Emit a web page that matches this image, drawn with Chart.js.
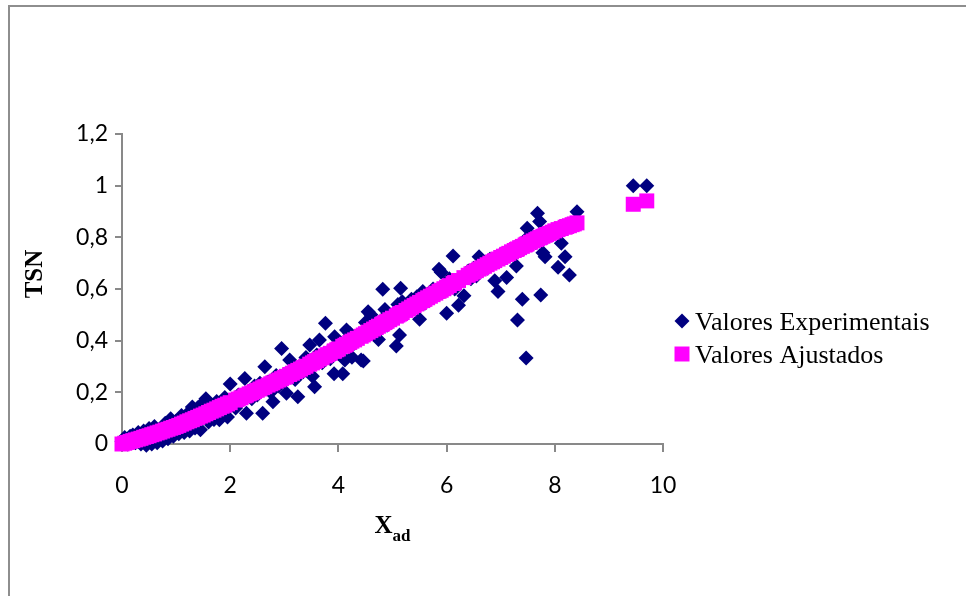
<!DOCTYPE html>
<html>
<head>
<meta charset="utf-8">
<title>TSN x Xad</title>
<script src="https://cdn.jsdelivr.net/npm/chart.js@4.4.0/dist/chart.umd.min.js"></script>
<style>
  html, body { margin: 0; padding: 0; background: #ffffff; }
  #frame {
    position: absolute; left: 8px; top: 5px; width: 1000px; height: 1000px;
    border-left: 2px solid #8e8e8e; border-top: 2px solid #8e8e8e; box-sizing: border-box;
  }
  #c { position: absolute; left: 0; top: 0; }
</style>
</head>
<body>
<div id="frame"></div>
<canvas id="c" width="966" height="596"></canvas>
<script>
// Adimensional position X_ad shared by both series
const xAd = [
  0.00, 0.05, 0.10, 0.15, 0.20, 0.25, 0.30, 0.35, 0.40, 0.45,
  0.50, 0.55, 0.60, 0.65, 0.70, 0.75, 0.80, 0.85, 0.90, 0.95,
  1.00, 1.05, 1.10, 1.15, 1.20, 1.25, 1.30, 1.35, 1.40, 1.45,
  1.50, 1.55, 1.60, 1.65, 1.70, 1.75, 1.80, 1.85, 1.90, 1.95,
  2.00, 2.10, 2.15, 2.20, 2.27, 2.30, 2.35, 2.40, 2.45, 2.50,
  2.55, 2.60, 2.64, 2.70, 2.75, 2.79, 2.85, 2.90, 2.95, 3.00,
  3.04, 3.10, 3.15, 3.20, 3.25, 3.30, 3.35, 3.40, 3.47, 3.52,
  3.56, 3.60, 3.65, 3.70, 3.76, 3.80, 3.85, 3.92, 3.93, 3.97,
  4.00, 4.08, 4.12, 4.15, 4.21, 4.25, 4.30, 4.35, 4.42, 4.46,
  4.50, 4.55, 4.60, 4.65, 4.70, 4.74, 4.80, 4.82, 4.86, 4.90,
  4.95, 5.00, 5.07, 5.10, 5.13, 5.15, 5.18, 5.25, 5.30, 5.35,
  5.40, 5.45, 5.50, 5.56, 5.60, 5.65, 5.70, 5.75, 5.80, 5.86,
  5.90, 5.95, 6.00, 6.05, 6.12, 6.15, 6.22, 6.32, 6.40, 6.45,
  6.50, 6.55, 6.60, 6.65, 6.70, 6.75, 6.80, 6.85, 6.89, 6.95,
  7.00, 7.05, 7.11, 7.15, 7.20, 7.25, 7.29, 7.31, 7.35, 7.40,
  7.45, 7.47, 7.49, 7.55, 7.60, 7.65, 7.68, 7.72, 7.74, 7.78,
  7.82, 7.85, 7.90, 7.95, 8.00, 8.06, 8.12, 8.19, 8.22, 8.27,
  8.32, 8.36, 8.41, 9.45, 9.70
];

// Measured TSN
const tsnExperimental = [
  0.010, 0.025, 0.000, 0.030, 0.035, 0.005, 0.045, 0.000, 0.050, -0.005,
  0.060, 0.000, 0.068, 0.005, 0.030, 0.012, 0.080, 0.020, 0.098, 0.030,
  0.088, 0.040, 0.110, 0.045, 0.115, 0.050, 0.143, 0.062, 0.140, 0.055,
  0.160, 0.175, 0.085, 0.150, 0.095, 0.165, 0.094, 0.120, 0.180, 0.105,
  0.232, 0.139, 0.190, 0.165, 0.254, 0.119, 0.205, 0.175, 0.225, 0.190,
  0.235, 0.119, 0.299, 0.240, 0.200, 0.164, 0.265, 0.225, 0.370, 0.270,
  0.196, 0.325, 0.290, 0.250, 0.183, 0.305, 0.280, 0.335, 0.383, 0.262,
  0.222, 0.345, 0.403, 0.315, 0.467, 0.355, 0.330, 0.272, 0.415, 0.380,
  0.350, 0.272, 0.325, 0.441, 0.429, 0.336, 0.390, 0.420, 0.325, 0.321,
  0.470, 0.512, 0.500, 0.450, 0.440, 0.405, 0.480, 0.599, 0.521, 0.460,
  0.500, 0.475, 0.379, 0.540, 0.422, 0.603, 0.551, 0.520, 0.540, 0.560,
  0.525, 0.570, 0.483, 0.590, 0.545, 0.580, 0.560, 0.600, 0.575, 0.676,
  0.665, 0.590, 0.506, 0.640, 0.728, 0.600, 0.537, 0.574, 0.670, 0.640,
  0.680, 0.650, 0.725, 0.690, 0.700, 0.680, 0.715, 0.700, 0.632, 0.590,
  0.735, 0.720, 0.645, 0.745, 0.735, 0.760, 0.689, 0.480, 0.770, 0.560,
  0.790, 0.333, 0.835, 0.790, 0.800, 0.780, 0.893, 0.861, 0.577, 0.740,
  0.725, 0.815, 0.820, 0.810, 0.830, 0.684, 0.777, 0.725, 0.845, 0.654,
  0.850, 0.845, 0.899, 1.000, 1.000
];

// Fitted TSN
const tsnFitted = [
  0.000, 0.003, 0.006, 0.010, 0.013, 0.016, 0.019, 0.022, 0.026, 0.029,
  0.032, 0.036, 0.039, 0.043, 0.046, 0.050, 0.054, 0.057, 0.061, 0.064,
  0.068, 0.072, 0.077, 0.081, 0.086, 0.090, 0.094, 0.099, 0.103, 0.108,
  0.112, 0.117, 0.122, 0.127, 0.131, 0.136, 0.141, 0.146, 0.150, 0.155,
  0.160, 0.170, 0.174, 0.179, 0.186, 0.189, 0.194, 0.198, 0.203, 0.208,
  0.213, 0.218, 0.222, 0.228, 0.233, 0.237, 0.243, 0.248, 0.253, 0.258,
  0.262, 0.269, 0.274, 0.280, 0.285, 0.290, 0.296, 0.301, 0.309, 0.314,
  0.319, 0.323, 0.329, 0.334, 0.341, 0.346, 0.351, 0.359, 0.360, 0.365,
  0.368, 0.378, 0.382, 0.386, 0.393, 0.398, 0.403, 0.409, 0.417, 0.422,
  0.427, 0.433, 0.439, 0.445, 0.451, 0.456, 0.463, 0.465, 0.470, 0.475,
  0.481, 0.487, 0.495, 0.499, 0.503, 0.505, 0.509, 0.517, 0.523, 0.530,
  0.536, 0.542, 0.548, 0.555, 0.560, 0.566, 0.572, 0.578, 0.584, 0.591,
  0.595, 0.601, 0.607, 0.613, 0.621, 0.625, 0.633, 0.644, 0.653, 0.659,
  0.665, 0.671, 0.677, 0.682, 0.688, 0.694, 0.700, 0.705, 0.710, 0.716,
  0.722, 0.727, 0.734, 0.738, 0.744, 0.749, 0.753, 0.755, 0.760, 0.765,
  0.770, 0.773, 0.775, 0.781, 0.786, 0.791, 0.794, 0.798, 0.800, 0.804,
  0.808, 0.811, 0.815, 0.820, 0.825, 0.830, 0.834, 0.839, 0.842, 0.845,
  0.849, 0.852, 0.856, 0.928, 0.941
];

const seriesLabels = ['Valores Experimentais', 'Valores Ajustados'];
const xTickLabels = ['0', '2', '4', '6', '8', '10'];
const yTickLabels = ['0', '0,2', '0,4', '0,6', '0,8', '1', '1,2'];

const NAVY = '#000080';
const MAGENTA = '#FF00FF';
const AXIS_GREY = '#898989';
const TICK_FONT = { family: 'Lato', size: 23 };
const SERIF = '"Liberation Serif", "Times New Roman", serif';

// Axis titles (with subscript) and the side legend
const annotations = {
  id: 'annotations',
  afterDraw(chart) {
    const ctx = chart.ctx;
    const area = chart.chartArea;
    ctx.save();
    ctx.fillStyle = '#000';

    // Y title
    ctx.save();
    ctx.translate(36, 274);
    ctx.rotate(-Math.PI / 2);
    ctx.font = 'bold 25px ' + SERIF;
    ctx.textAlign = 'center';
    ctx.textBaseline = 'middle';
    ctx.fillText('TSN', 0, 0);
    ctx.restore();

    // X title: X with subscript "ad"
    ctx.textAlign = 'left';
    ctx.textBaseline = 'alphabetic';
    ctx.font = 'bold 25px ' + SERIF;
    const wX = ctx.measureText('X').width;
    ctx.font = 'bold 17px ' + SERIF;
    const wSub = ctx.measureText('ad').width;
    const cx = (area.left + area.right) / 2;
    const x0 = cx - (wX + wSub) / 2;
    ctx.font = 'bold 25px ' + SERIF;
    ctx.fillText('X', x0, 533);
    ctx.font = 'bold 17px ' + SERIF;
    ctx.fillText('ad', x0 + wX, 541);

    // Legend
    const styles = [
      { pointStyle: 'rectRot', radius: 7.5, rotation: 0, borderWidth: 0, color: NAVY },
      { pointStyle: 'rect', radius: 10.6, rotation: 0, borderWidth: 0, color: MAGENTA }
    ];
    const rowY = [321, 354];
    ctx.font = '26px ' + SERIF;
    seriesLabels.forEach((label, i) => {
      const s = styles[i];
      ctx.fillStyle = s.color;
      ctx.strokeStyle = s.color;
      Chart.helpers.drawPoint(ctx, s, 682, rowY[i]);
      ctx.fillStyle = '#000';
      ctx.fillText(label, 695, rowY[i] + 9);
    });
    ctx.restore();
  }
};

const toPoints = (ys) => xAd.map((x, i) => ({ x: x, y: ys[i] }));

new Chart(document.getElementById('c').getContext('2d'), {
  type: 'scatter',
  data: {
    datasets: [
      {
        label: seriesLabels[0],
        data: toPoints(tsnExperimental),
        pointStyle: 'rectRot',
        pointRadius: 7.5,
        pointHoverRadius: 7.5,
        backgroundColor: NAVY,
        borderColor: NAVY,
        borderWidth: 0,
        order: 2,
        clip: false
      },
      {
        label: seriesLabels[1],
        data: toPoints(tsnFitted),
        pointStyle: 'rect',
        pointRadius: 10.6,
        pointHoverRadius: 10.6,
        backgroundColor: MAGENTA,
        borderColor: MAGENTA,
        borderWidth: 0,
        order: 1,
        clip: false
      }
    ]
  },
  options: {
    responsive: false,
    animation: false,
    devicePixelRatio: 1,
    events: [],
    layout: { padding: { left: 0, top: 134, right: 303, bottom: 0 } },
    plugins: { legend: { display: false }, tooltip: { enabled: false } },
    scales: {
      x: {
        type: 'linear',
        min: 0,
        max: 10,
        ticks: {
          stepSize: 2,
          color: '#000',
          font: TICK_FONT,
          padding: 20,
          maxRotation: 0,
          callback: (v, i) => xTickLabels[i]
        },
        grid: { drawOnChartArea: false, drawTicks: true, tickLength: 8, color: AXIS_GREY, lineWidth: 2 },
        border: { display: true, color: AXIS_GREY, width: 2 },
        afterFit(scale) { scale.height = 152; }
      },
      y: {
        type: 'linear',
        min: 0,
        max: 1.2,
        ticks: {
          stepSize: 0.2,
          color: '#000',
          font: TICK_FONT,
          padding: 7,
          callback: (v, i) => yTickLabels[i]
        },
        grid: { drawOnChartArea: false, drawTicks: true, tickLength: 7, color: AXIS_GREY, lineWidth: 2 },
        border: { display: true, color: AXIS_GREY, width: 2 },
        afterFit(scale) { scale.width = 122; }
      }
    }
  },
  plugins: [annotations]
});
</script>
</body>
</html>
